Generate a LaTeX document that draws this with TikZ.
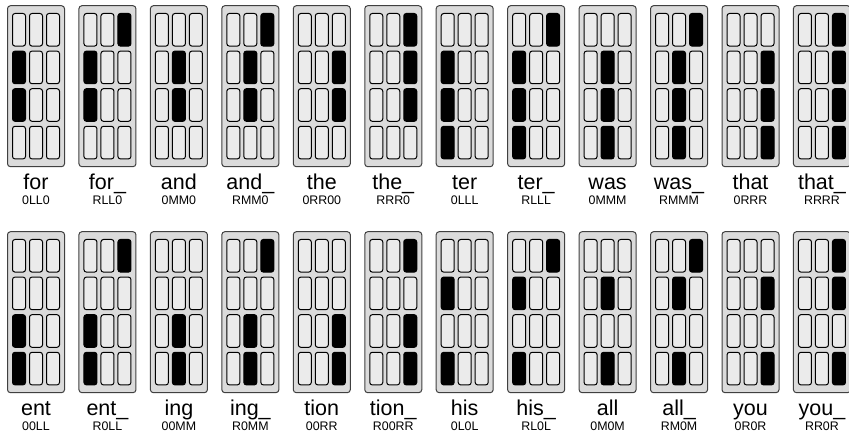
\documentclass[tikz,border=0pt]{standalone}
\usepackage{fontspec}
\setmainfont{Liberation Sans}
\usetikzlibrary{positioning,calc}

\begin{document}
\begin{tikzpicture}[x=1pt,y=-1pt,node distance=6.2pt]
	\tikzstyle{glyph}=[draw=black!75,line width=1pt,rounded corners=3pt,fill=black!14,minimum width=57pt,minimum height=161pt,inner sep=0pt]
	\tikzstyle{key}=[draw=black,line width=1pt,rounded corners=2.5pt,fill=black!8]
	\tikzstyle{keyon}=[key,fill=black]
	\tikzstyle{word}=[font=\fontsize{21.5}{23}\selectfont,inner sep=0pt,text height=15.6pt,text depth=4pt]
	\tikzstyle{code}=[font=\fontsize{12.4}{13}\selectfont,inner sep=0pt,text height=8.9pt,text depth=0pt]
	\useasboundingbox (0,0) rectangle (849,435);
	% cell number / word / code / filled key per row (0 none, 1 left, 2 middle, 3 right)
	\foreach \n/\w/\c/\pa/\pb/\pc/\pd in {
		0/for/0LL0/0/1/1/0, 1/for\_/RLL0/3/1/1/0, 2/and/0MM0/0/2/2/0, 3/and\_/RMM0/3/2/2/0,
		4/the/0RR00/0/3/3/0, 5/the\_/RRR0/3/3/3/0, 6/ter/0LLL/0/1/1/1, 7/ter\_/RLLL/3/1/1/1,
		8/was/0MMM/0/2/2/2, 9/was\_/RMMM/3/2/2/2, 10/that/0RRR/0/3/3/3, 11/that\_/RRRR/3/3/3/3,
		12/ent/00LL/0/0/1/1, 13/ent\_/R0LL/3/0/1/1, 14/ing/00MM/0/0/2/2, 15/ing\_/R0MM/3/0/2/2,
		16/tion/00RR/0/0/3/3, 17/tion\_/R00RR/3/0/3/3, 18/his/0L0L/0/1/0/1, 19/his\_/RL0L/3/1/0/1,
		20/all/0M0M/0/2/0/2, 21/all\_/RM0M/3/2/0/2, 22/you/0R0R/0/3/0/3, 23/you\_/RR0R/3/3/0/3}{
		\pgfmathtruncatemacro{\col}{mod(\n,12)}
		\pgfmathtruncatemacro{\row}{div(\n,12)}
		\node[glyph] (g\n) at ({36+71.45*\col},{86.2+226*\row}) {};
		\foreach \k [count=\j] in {\pa,\pb,\pc,\pd}{
			\foreach \m in {1,2,3}{
				\ifnum\m=\k \def\st{keyon}\else\def\st{key}\fi
				\draw[\st] ($(g\n.center)+({17*(\m-2)-6.5},{37.6*(\j-2.5)-16.3})$) rectangle ++(13,32.6);
			}
		}
		\node[word,below=of g\n] (w\n) {\w};
		\node[code,below=2.3pt of w\n] (c\n) {\c};
	}
\end{tikzpicture}
\end{document}
